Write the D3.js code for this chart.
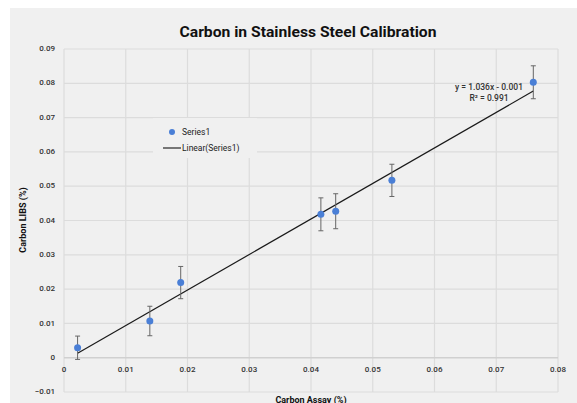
<!DOCTYPE html>
<html>
<head>
<meta charset="utf-8">
<script src="https://cdn.jsdelivr.net/npm/d3@7"></script>
<style>
  body { margin: 0; background: #fff; }
  text { font-family: Roboto, "DejaVu Sans", sans-serif; }
</style>
</head>
<body>
<script>
// measured values
var assay = [0.0022, 0.0139, 0.0189, 0.0416, 0.0440, 0.0531, 0.0760];
var libs  = [0.0029, 0.0107, 0.0219, 0.0418, 0.0427, 0.0517, 0.0803];
var err   = [0.0034, 0.0043, 0.0047, 0.0048, 0.0051, 0.0047, 0.0048];
var slope = 1.036, intercept = -0.001;
var xTicks = [0, 0.01, 0.02, 0.03, 0.04, 0.05, 0.06, 0.07, 0.08];
var yTicks = [-0.01, 0, 0.01, 0.02, 0.03, 0.04, 0.05, 0.06, 0.07, 0.08, 0.09];

var data = assay.map(function(d, i) { return {x: d, y: libs[i], e: err[i]}; });

var W = 577, H = 403;
var svg = d3.select("body").append("svg")
    .attr("width", W)
    .attr("height", H);

svg.append("rect")
    .attr("x", 10).attr("y", 8)
    .attr("width", W - 10).attr("height", H - 8)
    .attr("fill", "#f0f0f0");

var xScale = d3.scaleLinear().domain([0, 0.08]).range([64, 558]);
var yScale = d3.scaleLinear().domain([-0.01, 0.09]).range([392, 49]);

// gridlines
svg.append("g").selectAll("line")
    .data(xTicks).enter().append("line")
    .attr("x1", d => xScale(d)).attr("x2", d => xScale(d))
    .attr("y1", yScale(0.09)).attr("y2", yScale(-0.01))
    .attr("stroke", "#dcdcdc").attr("stroke-width", 1.2);

svg.append("g").selectAll("line")
    .data(yTicks).enter().append("line")
    .attr("x1", xScale(0)).attr("x2", xScale(0.08))
    .attr("y1", d => yScale(d)).attr("y2", d => yScale(d))
    .attr("stroke", d => d == 0 ? "#d0d0d0" : "#dcdcdc")
    .attr("stroke-width", d => d == 0 ? 1.6 : 1.2);

// tick labels
svg.append("g").selectAll("text")
    .data(yTicks).enter().append("text")
    .attr("x", 55).attr("y", d => yScale(d))
    .attr("text-anchor", "end")
    .attr("dominant-baseline", "middle")
    .style("font-size", "8px").style("font-weight", 500).style("fill", "#333")
    .text(d => d == 0 ? "0" : d3.format(".2f")(d));

svg.append("g").selectAll("text")
    .data(xTicks).enter().append("text")
    .attr("x", d => xScale(d)).attr("y", yScale(0) + 14)
    .attr("text-anchor", "middle")
    .style("font-size", "8px").style("font-weight", 500).style("fill", "#333")
    .text(d => d == 0 ? "0" : d3.format(".2f")(d));

// legend box
var lg = svg.append("g").attr("transform", "translate(153,118)");
lg.append("rect").attr("width", 104).attr("height", 40).attr("fill", "#f0f0f0");
lg.append("circle").attr("cx", 19).attr("cy", 14).attr("r", 3).attr("fill", "#4a7fd6");
lg.append("text").attr("x", 29).attr("y", 15)
    .attr("dominant-baseline", "middle")
    .style("font-size", "8.5px").style("fill", "#222").text("Series1");
lg.append("line").attr("x1", 10).attr("x2", 28).attr("y1", 30).attr("y2", 30)
    .attr("stroke", "#333").attr("stroke-width", 1.3);
lg.append("text").attr("x", 29).attr("y", 31)
    .attr("dominant-baseline", "middle")
    .style("font-size", "8.5px").style("fill", "#222").text("Linear(Series1)");

// trend line
var x0 = d3.min(assay), x1 = d3.max(assay);
svg.append("line")
    .attr("x1", xScale(x0)).attr("y1", yScale(slope * x0 + intercept))
    .attr("x2", xScale(x1)).attr("y2", yScale(slope * x1 + intercept))
    .attr("stroke", "#1a1a1a").attr("stroke-width", 1.2);

// error bars
var eb = svg.append("g").attr("stroke", "#666").attr("stroke-width", 1);
eb.selectAll(".v").data(data).enter().append("line")
    .attr("x1", d => xScale(d.x)).attr("x2", d => xScale(d.x))
    .attr("y1", d => yScale(d.y + d.e)).attr("y2", d => yScale(d.y - d.e));
eb.selectAll(".t").data(data).enter().append("line")
    .attr("x1", d => xScale(d.x) - 2.5).attr("x2", d => xScale(d.x) + 2.5)
    .attr("y1", d => yScale(d.y + d.e)).attr("y2", d => yScale(d.y + d.e));
eb.selectAll(".b").data(data).enter().append("line")
    .attr("x1", d => xScale(d.x) - 2.5).attr("x2", d => xScale(d.x) + 2.5)
    .attr("y1", d => yScale(d.y - d.e)).attr("y2", d => yScale(d.y - d.e));

// points
svg.append("g").selectAll("circle")
    .data(data).enter().append("circle")
    .attr("cx", d => xScale(d.x)).attr("cy", d => yScale(d.y))
    .attr("r", 3.5).attr("fill", "#4a7fd6");

// equation
svg.append("text")
    .attr("x", 489).attr("y", 90)
    .attr("text-anchor", "middle")
    .style("font-size", "8.5px").style("fill", "#333").style("font-weight", 500)
    .text("y = " + slope + "x - " + Math.abs(intercept));
svg.append("text")
    .attr("x", 489).attr("y", 101)
    .attr("text-anchor", "middle")
    .style("font-size", "8.5px").style("fill", "#333").style("font-weight", 500)
    .text("R² = 0.991");

// titles
svg.append("text")
    .attr("x", 308).attr("y", 37)
    .attr("text-anchor", "middle")
    .attr("textLength", 257).attr("lengthAdjust", "spacingAndGlyphs")
    .style("font-size", "15px").style("font-weight", "bold").style("fill", "#111")
    .text("Carbon in Stainless Steel Calibration");

svg.append("text")
    .attr("x", 311).attr("y", 403)
    .attr("text-anchor", "middle")
    .style("font-size", "9px").style("font-weight", "bold").style("fill", "#111")
    .text("Carbon Assay (%)");

svg.append("text")
    .attr("transform", "translate(26,220) rotate(-90)")
    .attr("text-anchor", "middle")
    .style("font-size", "9px").style("font-weight", "bold").style("fill", "#111")
    .text("Carbon LIBS (%)");
</script>
</body>
</html>
